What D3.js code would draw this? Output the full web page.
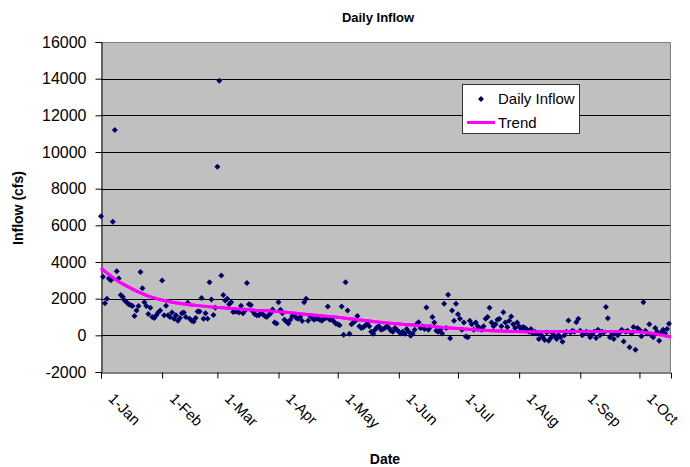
<!DOCTYPE html>
<html>
<head>
<meta charset="utf-8">
<script src="https://cdn.jsdelivr.net/npm/d3@7"></script>
<style>
  html, body { margin: 0; padding: 0; background: #fff; }
  svg { display: block; font-family: Arial, "Liberation Sans", sans-serif; }
</style>
</head>
<body>
<svg id="chart" width="690" height="467"></svg>
<script>
// ---------------- DATA ----------------
const startDate = "2005-01-01";
const endDate = "2005-10-17";

// Daily inflow (cfs), one value per day starting 1-Jan
const dailyInflow = [
  6500, 3200, 1750, 2000, 3100, 3000, 6200, 11200, 3500, 3100,
  2200, 2100, 1900, 1800, 1700, 1650, 1600, 1050, 1350, 1600,
  3450, 2570, 1800, 1600, 1170, 1500, 1000, 950, 1100, 1250,
  1350, 2990, 1100, 1620, 1100, 1000, 1250, 900, 1100, 800,
  950, 1200, 1250, 1000, 1780, 900, 800, 750, 950, 1300,
  1300, 2030, 900, 1200, 900, 2900, 1950, 1110, 1500, 9190,
  13890, 3270, 2200, 1900, 2000, 1700, 1800, 1270, 1300, 1300,
  1250, 1620, 1200, 1350, 2850, 1700, 1650, 1300, 1150, 1100,
  1100, 1200, 1150, 1050, 1000, 1100, 1200, 1410, 700, 640,
  1810, 1400, 1200, 850, 750, 650, 850, 1050, 1100, 950,
  900, 1000, 780, 1810, 2000, 800, 1050, 950, 850, 900,
  900, 850, 800, 900, 950, 1570, 850, 900, 750, 650,
  600, 550, 1570, 30, 2900, 1350, 80, 600, 700, 800,
  1050, 500, 400, 440, 535, 630, 500, 200, 80, 300,
  440, 500, 300, 350, 400, 500, 400, 250, 200, 400,
  300, 200, 100, 200, 80, 350, 200, -20, 80, 300,
  600, 720, 400, 500, 350, 1520, 300, 450, 1000, 700,
  250, 200, 300, 100, 1720, 400, 2210, -160, 1350, 800,
  1720, 1150, 900, 300, 700, -65, -100, 800, 600, 300,
  700, 500, 400, 300, 500, 900, 1000, 1500, 700, 500,
  600, 850, 900, 500, 1260, 700, 450, 800, 1030, 600,
  400, 700, 500, 350, 450, 400, 300, 200, 350, 100,
  200, 100, -200, 50, -100, -250, 150, -300, -150, 100,
  -50, -200, 0, -100, -350, 0, 200, 810, 150, 250,
  200, 720, 900, 250, 0, 100, 200, 150, -100, 50,
  200, -150, 300, 0, 200, 150, 1540, 930, -100, 50,
  -200, 100, 0, 150, 300, -340, 200, 250, -650, 100,
  450, -780, 400, 300, -50, 1810, 250, 100, 600, 0,
  -100, 400, 200, -300, 150, 300, 100, 350, 630
];

// Trend line (day offset from 1-Jan, value in cfs)
const trendDays   = [0, 8, 16, 24, 32, 41, 49, 58, 66, 75, 89, 106, 123, 135, 148, 162, 179, 196, 210, 221, 235, 252, 268, 277, 285, 289];
const trendValues = [3670, 3000, 2520, 2140, 1900, 1720, 1620, 1530, 1460, 1390, 1300, 1120, 950, 790, 640, 530, 380, 270, 215, 200, 205, 210, 205, 140, 0, -100];

const yTickValues = [-2000, 0, 2000, 4000, 6000, 8000, 10000, 12000, 14000, 16000];
const yTickLabels = ["-2000", "0", "2000", "4000", "6000", "8000", "10000", "12000", "14000", "16000"];
const xTickDates  = ["2005-01-01", "2005-02-01", "2005-03-01", "2005-04-01", "2005-05-01", "2005-06-01", "2005-07-01", "2005-08-01", "2005-09-01", "2005-10-01"];
const xTickLabels = ["1-Jan", "1-Feb", "1-Mar", "1-Apr", "1-May", "1-Jun", "1-Jul", "1-Aug", "1-Sep", "1-Oct"];

const titleText = "Daily Inflow";
const xTitle = "Date";
const yTitle = "Inflow (cfs)";
const seriesNames = ["Daily Inflow", "Trend"];

// ---------------- CHART ----------------
const parse = d3.timeParse("%Y-%m-%d");
const t0 = parse(startDate);
const svg = d3.select("#chart");

const plot = { left: 101, right: 671, top: 42, bottom: 372 };

const x = d3.scaleTime().domain([t0, parse(endDate)]).range([plot.left, plot.right]);
const y = d3.scaleLinear().domain([-2000, 16000]).range([plot.bottom, plot.top]);

// plot background
svg.append("rect")
  .attr("x", plot.left).attr("y", plot.top)
  .attr("width", plot.right - plot.left).attr("height", plot.bottom - plot.top)
  .attr("fill", "#c0c0c0");

// gridlines
svg.append("g").selectAll("line")
  .data(yTickValues.filter(v => v > -2000 && v < 16000))
  .join("line")
  .attr("x1", plot.left).attr("x2", plot.right)
  .attr("y1", d => Math.round(y(d)) + 0.5).attr("y2", d => Math.round(y(d)) + 0.5)
  .attr("stroke", "#000").attr("stroke-width", 1);

// plot border (top & right)
svg.append("path")
  .attr("d", `M${plot.left},${plot.top + 0.5}H${plot.right - 0.5}V${plot.bottom}`)
  .attr("fill", "none").attr("stroke", "#808080").attr("stroke-width", 1);

// Y axis
const yAxis = d3.axisLeft(y)
  .tickValues(yTickValues)
  .tickFormat((d, i) => yTickLabels[i])
  .tickSize(6).tickPadding(9);
const gy = svg.append("g").attr("transform", `translate(${plot.left + 0.5},0)`).call(yAxis);
gy.select(".domain").attr("stroke", "#000");
gy.selectAll(".tick line").attr("stroke", "#000");
gy.selectAll(".tick text").attr("font-size", 16).attr("fill", "#000")
  .attr("font-family", "Arial, 'Liberation Sans', sans-serif");

// X axis
const xAxis = d3.axisBottom(x)
  .tickValues(xTickDates.map(parse))
  .tickFormat((d, i) => xTickLabels[i])
  .tickSize(6);
const gx = svg.append("g").attr("transform", `translate(0,${plot.bottom + 0.5})`).call(xAxis);
gx.select(".domain").attr("stroke", "#000");
gx.selectAll(".tick line").attr("stroke", "#000");
gx.selectAll(".tick text")
  .attr("font-size", 15).attr("fill", "#000")
  .attr("font-family", "Arial, 'Liberation Sans', sans-serif")
  .attr("text-anchor", "start")
  .attr("y", 0).attr("dy", 0)
  .attr("transform", "translate(6,27) rotate(45)");

// trend line
const trendData = trendDays.map((d, i) => ({ date: d3.timeDay.offset(t0, d), v: trendValues[i] }));
svg.append("path")
  .datum(trendData)
  .attr("fill", "none")
  .attr("stroke", "#ff00ff")
  .attr("stroke-width", 3)
  .attr("d", d3.line().x(d => x(d.date)).y(d => y(d.v)).curve(d3.curveMonotoneX));

// points
const pts = dailyInflow.map((v, i) => ({ date: d3.timeDay.offset(t0, i), v }));
const diamond = "M0,-3L3,0L0,3L-3,0Z";
svg.append("g").selectAll("path")
  .data(pts)
  .join("path")
  .attr("d", diamond)
  .attr("transform", d => `translate(${x(d.date)},${y(d.v)})`)
  .attr("fill", "#000066");

// redraw trend on top? (Excel draws series order: points then trend) - keep trend above points
svg.append("path")
  .datum(trendData)
  .attr("fill", "none")
  .attr("stroke", "#ff00ff")
  .attr("stroke-width", 3)
  .attr("d", d3.line().x(d => x(d.date)).y(d => y(d.v)).curve(d3.curveMonotoneX));

// titles
svg.append("text")
  .attr("x", 378).attr("y", 22)
  .attr("text-anchor", "middle")
  .attr("font-size", 13).attr("font-weight", "bold")
  .text(titleText);

svg.append("text")
  .attr("x", 385).attr("y", 464)
  .attr("text-anchor", "middle")
  .attr("font-size", 14).attr("font-weight", "bold")
  .text(xTitle);

svg.append("text")
  .attr("transform", "translate(23,208) rotate(-90)")
  .attr("text-anchor", "middle")
  .attr("font-size", 14).attr("font-weight", "bold")
  .text(yTitle);

// legend
const lg = svg.append("g");
lg.append("rect")
  .attr("x", 462.5).attr("y", 84.5).attr("width", 117).attr("height", 49)
  .attr("fill", "#fff").attr("stroke", "#333").attr("stroke-width", 1);
lg.append("path").attr("d", diamond).attr("transform", "translate(481,99)").attr("fill", "#000066");
lg.append("text").attr("x", 498).attr("y", 104).attr("font-size", 15).text(seriesNames[0]);
lg.append("line").attr("x1", 467).attr("x2", 495).attr("y1", 122.5).attr("y2", 122.5)
  .attr("stroke", "#ff00ff").attr("stroke-width", 3);
lg.append("text").attr("x", 498).attr("y", 128).attr("font-size", 15).text(seriesNames[1]);
</script>
</body>
</html>
